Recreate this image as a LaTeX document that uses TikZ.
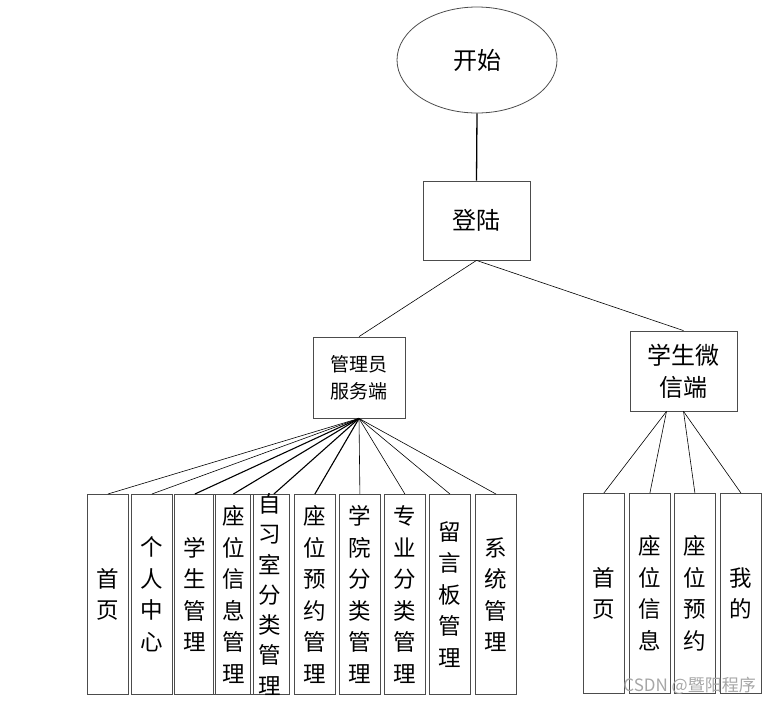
\documentclass[tikz,border=0pt]{standalone}
\usepackage{fontspec}
\setmainfont{Noto Sans CJK SC}
\usetikzlibrary{shapes.geometric}
\begin{document}
\begin{tikzpicture}[x=1pt,y=-1pt,
  box/.style={draw=black!70, line width=0.8pt, rectangle, inner sep=0pt, align=center},
  leaf/.style={box, minimum width=41pt, minimum height=200pt, anchor=north west, font=\fontsize{22.5}{31.5}\selectfont},
  leaftext/.style={align=center, inner sep=0pt, font=\fontsize{22.5}{30.3}\selectfont},
  conn/.style={line width=0.6pt},
  boldconn/.style={line width=1.1pt}]
\useasboundingbox (0,0) rectangle (770,705);

\node[ellipse, draw=black!70, line width=0.8pt, minimum width=160pt, minimum height=106pt, inner sep=0pt, font=\fontsize{24}{28}\selectfont] (start) at (477,60) {开始};
\node[box, minimum width=107pt, minimum height=79pt, font=\fontsize{24}{28}\selectfont] (login) at (476.5,220.5) {登陆};
\node[box, minimum width=92pt, minimum height=81pt, font=\fontsize{19}{27}\selectfont] (admin) at (359,377.5) {管理员\\服务端};
\node[box, minimum width=107pt, minimum height=80pt, font=\fontsize{24}{32}\selectfont] (stu) at (683.5,371) {学生微\\信端};

% admin leaves
\node[leaf] (a1) at (87,494) {首\\页};
\node[leaf] (a2) at (131,494) {个\\人\\中\\心};
\node[leaf] (a3) at (174,494) {学\\生\\管\\理};
\node[leaf, minimum width=40pt] (a4) at (213,494) {座\\位\\信\\息\\管\\理};
\node[leaf, minimum width=39pt] (a5) at (250,494) {};
\node[leaftext] (a5t) at (a5.center) {自\\习\\室\\分\\类\\管\\理};
\node[leaf] (a6) at (294,494) {座\\位\\预\\约\\管\\理};
\node[leaf] (a7) at (339,494) {学\\院\\分\\类\\管\\理};
\node[leaf] (a8) at (384,494) {专\\业\\分\\类\\管\\理};
\node[leaf] (a9) at (429,494) {留\\言\\板\\管\\理};
\node[leaf] (a10) at (475,494) {系\\统\\管\\理};

% student leaves
\node[leaf] (s1) at (583,493) {首\\页};
\node[leaf] (s2) at (629,493) {座\\位\\信\\息};
\node[leaf] (s3) at (674,493) {座\\位\\预\\约};
\node[leaf] (s4) at (720,493) {我\\的};

% connectors
\draw[line width=1.3pt] (start.south) -- (login.north);
\draw[conn] (login.south) -- (admin.north);
\draw[conn] (login.south) -- (stu.north);

\draw[conn] (admin.south) -- (a1.north);
\draw[conn] (admin.south) -- (a2.north);
\draw[boldconn] (admin.south) -- (a3.north);
\draw[boldconn] (admin.south) -- (a4.north);
\draw[boldconn] (admin.south) -- ([xshift=4pt]a5.north);
\draw[boldconn] (admin.south) -- (a6.north);
\draw[conn] (admin.south) -- (a7.north);
\draw[conn] (admin.south) -- (a8.north);
\draw[conn] (admin.south) -- (a9.north);
\draw[conn] (admin.south) -- (a10.north);

\coordinate (stuL) at ([xshift=-17pt]stu.south);
\draw[conn] (stuL) -- (s1.north);
\draw[conn] (stuL) -- (s2.north);
\draw[conn] (stu.south) -- (s3.north);
\draw[conn] (stu.south) -- (s4.north);

\node[text=black!35, anchor=east, inner sep=0pt, font=\fontsize{17}{19}\selectfont] (wm) at (756,686) {CSDN @暨阳程序};
\end{tikzpicture}
\end{document}
